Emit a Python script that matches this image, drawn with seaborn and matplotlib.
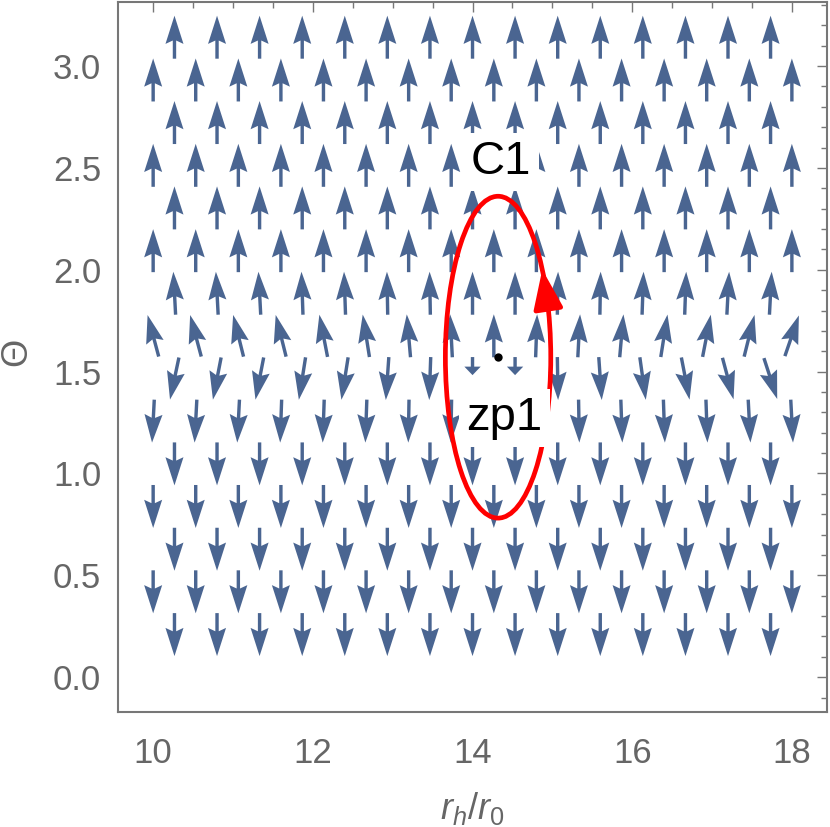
import numpy as np
import pandas as pd
import matplotlib
matplotlib.use("Agg")
import matplotlib.pyplot as plt
import matplotlib.transforms as mtransforms
from matplotlib.patches import Ellipse
from matplotlib.ticker import MultipleLocator, FormatStrFormatter
import seaborn as sns

# grid of the vector plot: rows in Theta, two staggered sets of columns in r_h/r_0
row_theta = [0.209, 0.419, 0.628, 0.838, 1.047, 1.257, 1.466, 1.676,
             1.885, 2.094, 2.304, 2.513, 2.723, 2.932, 3.142]
row_dir = [-1, -1, -1, -1, -1, -1, -1, 1, 1, 1, 1, 1, 1, 1, 1]  # -1 down, 1 up
cols_even = [10.0, 10.533, 11.067, 11.6, 12.133, 12.667, 13.2, 13.733,
             14.267, 14.8, 15.333, 15.867, 16.4, 16.933, 17.467, 18.0]
cols_odd = [10.267, 10.8, 11.333, 11.867, 12.4, 12.933, 13.467, 14.0,
            14.533, 15.067, 15.6, 16.133, 16.667, 17.2, 17.733]

# lean of the arrow tip from vertical in degrees (+ = towards larger r_h)
# only the four rows around Theta = pi/2 lean visibly, the rest are vertical
tilt_row6 = [-3, -3, -3, -2, -2, -2, -1, -1, 0, 1, 1, 2, 2, 2, 3, 3]
tilt_row7 = [-12, -11, -11, -9, -9, -4, -2, 0, 0, 1, 4, 8, 11, 15, 18]
tilt_row8 = [-15, -15, -14, -14, -11, -9, -5, -3, 0, 2, 3, 5, 9, 11, 14, 19]
tilt_row9 = [-3, -3, -3, -2, -2, -1, -1, 0, 0, 1, 1, 2, 2, 3, 3]

# the two shortened arrows next to the zero point
short_r = [14.0, 14.533]
short_theta = [1.466, 1.466]
short_len = [0.42, 0.42]

# zero point and contour C1
zp_r, zp_theta = 14.32, 1.571
c1_half_r, c1_half_theta = 0.66, 0.79
c1_arrow_from, c1_arrow_to = 17, 33   # parameter angles (deg) of the arrowhead

x_ticks = [10, 12, 14, 16, 18]
y_ticks = [0.0, 0.5, 1.0, 1.5, 2.0, 2.5, 3.0]

ARROW = "#4a6591"
GRAY = "#666666"

tilts = {6: tilt_row6, 7: tilt_row7, 8: tilt_row8, 9: tilt_row9}
records = []
for i, th in enumerate(row_theta):
    k = i + 1
    cols = cols_even if k % 2 == 0 else cols_odd
    tl = tilts.get(k, [0] * len(cols))
    for r, t in zip(cols, tl):
        records.append({"r": r, "theta": th, "tilt": t, "dir": row_dir[i]})
df = pd.DataFrame(records)
is_short = np.zeros(len(df), dtype=bool)
for r, th in zip(short_r, short_theta):
    is_short |= (np.isclose(df["r"], r, atol=1e-3) & np.isclose(df["theta"], th, atol=1e-3))
main = df[~is_short]
main_u = np.sin(np.radians(main["tilt"]))
main_v = main["dir"] * np.cos(np.radians(main["tilt"]))

sns.set_theme(style="white")
plt.rcParams["font.family"] = ["Liberation Sans", "DejaVu Sans"]
plt.rcParams["mathtext.fontset"] = "custom"
plt.rcParams["mathtext.it"] = "Liberation Sans:italic"
plt.rcParams["mathtext.rm"] = "Liberation Sans"

fig = plt.figure(figsize=(8.30, 8.27), dpi=100)
ax = fig.add_axes([0.1422, 0.1391, 0.8542, 0.8579])

ax.quiver(main["r"], main["theta"], main_u, main_v, angles="uv",
          scale_units="dots", scale=1 / 43, units="dots", width=3.4,
          headwidth=5.3, headlength=8.3, headaxislength=7.3,
          pivot="middle", color=ARROW, zorder=2)

# short arrows keep their tail where the full-size ones start
tail_shift = mtransforms.offset_copy(ax.transData, fig=fig, x=0, y=21.5, units="dots")
ax.quiver(short_r, short_theta, [0, 0], [-s for s in short_len], angles="uv",
          scale_units="dots", scale=1 / 43, units="dots", width=3.4,
          headwidth=4.8, headlength=2.5, headaxislength=2.5,
          pivot="tail", color=ARROW, zorder=2, transform=tail_shift)

ax.add_patch(Ellipse((zp_r, zp_theta), 2 * c1_half_r, 2 * c1_half_theta,
                     fill=False, ec="red", lw=3.4, zorder=3))
t0, t1 = np.radians(c1_arrow_from), np.radians(c1_arrow_to)
ax.annotate("", xy=(zp_r + c1_half_r * np.cos(t1), zp_theta + c1_half_theta * np.sin(t1)),
            xytext=(zp_r + c1_half_r * np.cos(t0), zp_theta + c1_half_theta * np.sin(t0)),
            arrowprops=dict(arrowstyle="-|>,head_length=24,head_width=9",
                            mutation_scale=1, color="red", lw=3.4,
                            shrinkA=0, shrinkB=0), zorder=3)

sns.scatterplot(x=[zp_r], y=[zp_theta], color="black", s=36, linewidth=0,
                ax=ax, zorder=4, legend=False)

box = dict(boxstyle="square,pad=0.15", fc="white", ec="none")
ax.text(14.36, 2.469, "C1", ha="center", va="baseline", fontsize=34,
        color="black", bbox=box, zorder=5)
ax.text(14.40, 1.213, "zp1", ha="center", va="baseline", fontsize=34,
        color="black", bbox=box, zorder=5)

ax.set_xlim(9.56, 18.44)
ax.set_ylim(-0.1708, 3.3124)
ax.set_xticks(x_ticks)
ax.set_yticks(y_ticks)
ax.xaxis.set_minor_locator(MultipleLocator(0.5))
ax.yaxis.set_minor_locator(MultipleLocator(0.1))
ax.yaxis.set_major_formatter(FormatStrFormatter("%.1f"))
ax.tick_params(which="both", direction="in", top=True, right=True,
               color="#777777", width=1.0, labelcolor=GRAY, labelsize=25)
ax.tick_params(axis="x", which="major", length=7.2, pad=18)
ax.tick_params(axis="y", which="major", length=7.2, pad=12)
ax.tick_params(which="minor", length=4.6)
for sp in ax.spines.values():
    sp.set_color("#777777")
    sp.set_linewidth(1.5)

ax.set_xlabel(r"$r_h/r_0$", fontsize=26, color=GRAY)
ax.xaxis.set_label_coords(0.5, -0.110)
ax.set_ylabel("Θ", fontsize=26, color=GRAY)
ax.yaxis.set_label_coords(-0.118, 0.507)

fig.savefig("out.png", dpi=100)
